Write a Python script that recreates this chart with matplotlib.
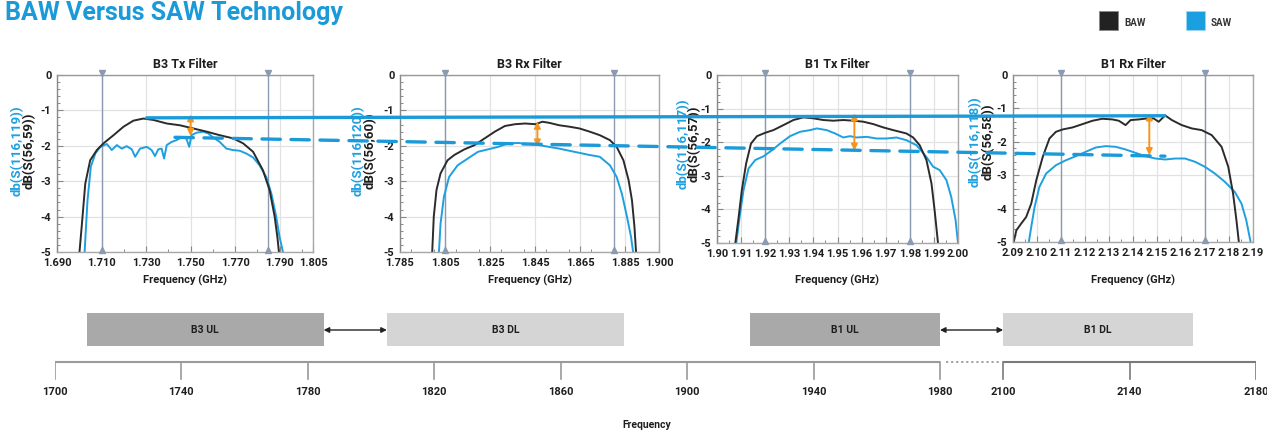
import matplotlib
matplotlib.use("Agg")
import matplotlib.pyplot as plt
from matplotlib.patches import ConnectionPatch, Rectangle
from matplotlib.ticker import FixedLocator, MultipleLocator

plt.rcParams['font.family'] = ['Roboto', 'DejaVu Sans']
plt.rcParams['font.weight'] = 'bold'

# ---------------- data ----------------
b3tx_baw_f = [1.7001, 1.7012, 1.7027, 1.7049, 1.7079, 1.7109, 1.7154, 1.7199, 1.7243, 1.7288, 1.7333,
              1.7393, 1.7452, 1.7512, 1.7572, 1.7631, 1.7691, 1.7736, 1.7781, 1.7825, 1.7855, 1.7878,
              1.7890, 1.7897]
b3tx_baw_db = [-5.00, -4.20, -3.07, -2.41, -2.12, -1.93, -1.70, -1.46, -1.29, -1.23, -1.27,
               -1.37, -1.42, -1.51, -1.60, -1.70, -1.79, -1.93, -2.17, -2.69, -3.25, -4.01,
               -4.58, -5.00]
b3tx_saw_f = [1.7024, 1.7037, 1.7052, 1.7072, 1.7094, 1.7124, 1.7146, 1.7169, 1.7191, 1.7213, 1.7236,
              1.7251, 1.7273, 1.7303, 1.7325, 1.7340, 1.7355, 1.7370, 1.7381, 1.7393, 1.7415, 1.7437,
              1.7460, 1.7479, 1.7494, 1.7504, 1.7527, 1.7557, 1.7579, 1.7601, 1.7631, 1.7661, 1.7691,
              1.7721, 1.7751, 1.7781, 1.7810, 1.7840, 1.7863, 1.7885, 1.7900, 1.7915]
b3tx_saw_db = [-5.00, -3.54, -2.59, -2.22, -2.03, -1.95, -2.12, -1.98, -2.08, -2.01, -2.10,
               -2.31, -2.08, -2.03, -2.12, -2.29, -2.10, -2.08, -2.36, -1.98, -1.89, -1.84,
               -1.76, -1.76, -2.03, -1.70, -1.63, -1.60, -1.65, -1.76, -1.89, -2.08, -2.12,
               -2.14, -2.22, -2.33, -2.55, -2.88, -3.35, -4.01, -4.58, -5.00]

b3rx_baw_f = [1.7993, 1.8000, 1.8012, 1.8030, 1.8061, 1.8091, 1.8136, 1.8181, 1.8226, 1.8271, 1.8316,
              1.8361, 1.8406, 1.8452, 1.8482, 1.8512, 1.8557, 1.8602, 1.8647, 1.8692, 1.8737, 1.8782,
              1.8812, 1.8842, 1.8865, 1.8880, 1.8891, 1.8898]
b3rx_baw_db = [-5.00, -4.00, -3.25, -2.78, -2.41, -2.26, -2.10, -1.98, -1.79, -1.60, -1.44,
               -1.39, -1.37, -1.39, -1.32, -1.35, -1.42, -1.46, -1.51, -1.60, -1.70, -1.84,
               -2.03, -2.41, -2.97, -3.54, -4.29, -5.00]
b3rx_saw_f = [1.8023, 1.8030, 1.8045, 1.8068, 1.8106, 1.8151, 1.8196, 1.8241, 1.8286, 1.8331, 1.8376,
              1.8421, 1.8467, 1.8512, 1.8557, 1.8602, 1.8647, 1.8692, 1.8737, 1.8782, 1.8812, 1.8835,
              1.8858, 1.8876, 1.8885]
b3rx_saw_db = [-5.00, -4.20, -3.44, -2.88, -2.55, -2.36, -2.17, -2.10, -2.03, -1.93, -1.92,
               -1.95, -1.98, -2.03, -2.08, -2.14, -2.20, -2.26, -2.31, -2.55, -2.88, -3.35,
               -4.01, -4.58, -5.00]

b1tx_baw_f = [1.9076, 1.9090, 1.9103, 1.9121, 1.9141, 1.9166, 1.9200, 1.9234, 1.9276, 1.9317, 1.9359,
              1.9400, 1.9441, 1.9483, 1.9524, 1.9566, 1.9607, 1.9648, 1.9690, 1.9731, 1.9786, 1.9814,
              1.9841, 1.9869, 1.9890, 1.9903, 1.9917]
b1tx_baw_db = [-5.00, -4.22, -3.43, -2.63, -2.04, -1.82, -1.72, -1.64, -1.49, -1.34, -1.26,
               -1.29, -1.34, -1.36, -1.34, -1.36, -1.39, -1.46, -1.56, -1.64, -1.74, -1.86,
               -2.09, -2.53, -3.23, -4.03, -5.00]
b1tx_saw_f = [1.9080, 1.9094, 1.9110, 1.9131, 1.9159, 1.9193, 1.9228, 1.9262, 1.9303, 1.9345, 1.9386,
              1.9414, 1.9455, 1.9490, 1.9524, 1.9552, 1.9579, 1.9621, 1.9662, 1.9703, 1.9745, 1.9786,
              1.9828, 1.9869, 1.9897, 1.9924, 1.9952, 1.9972, 1.9990, 2.0000]
b1tx_saw_db = [-5.00, -4.22, -3.43, -2.78, -2.53, -2.42, -2.24, -2.04, -1.82, -1.69, -1.64,
               -1.59, -1.64, -1.74, -1.86, -1.82, -1.86, -1.84, -1.89, -1.89, -1.86, -1.94,
               -2.09, -2.44, -2.73, -2.83, -3.13, -3.63, -4.32, -5.00]

b1rx_baw_f = [2.0903, 2.0914, 2.0934, 2.0955, 2.0976, 2.0997, 2.1024, 2.1052, 2.1079, 2.1107, 2.1148,
              2.1190, 2.1231, 2.1272, 2.1314, 2.1341, 2.1369, 2.1390, 2.1424, 2.1459, 2.1486, 2.1507,
              2.1534, 2.1562, 2.1603, 2.1645, 2.1686, 2.1728, 2.1769, 2.1797, 2.1817, 2.1831, 2.1841]
b1rx_baw_db = [-5.00, -4.65, -4.45, -4.25, -3.85, -3.15, -2.45, -1.90, -1.70, -1.63, -1.57,
               -1.47, -1.37, -1.31, -1.33, -1.37, -1.50, -1.35, -1.33, -1.30, -1.30, -1.40,
               -1.21, -1.35, -1.50, -1.60, -1.65, -1.80, -2.15, -2.75, -3.55, -4.35, -5.00]
b1rx_saw_f = [2.0966, 2.0976, 2.0990, 2.1010, 2.1038, 2.1079, 2.1121, 2.1162, 2.1203, 2.1245, 2.1286,
              2.1328, 2.1369, 2.1410, 2.1452, 2.1493, 2.1534, 2.1576, 2.1617, 2.1659, 2.1700, 2.1741,
              2.1783, 2.1824, 2.1852, 2.1872, 2.1890]
b1rx_saw_db = [-5.00, -4.55, -3.95, -3.35, -2.95, -2.70, -2.55, -2.43, -2.30, -2.17, -2.13,
               -2.15, -2.23, -2.33, -2.43, -2.50, -2.53, -2.50, -2.50, -2.60, -2.75, -2.95,
               -3.20, -3.50, -3.85, -4.35, -5.00]

panel_titles = ["B3 Tx Filter", "B3 Rx Filter", "B1 Tx Filter", "B1 Rx Filter"]
saw_labels = ["db(S(116,119))", "db(S(116,120))", "db(S(116,117))", "db(S(116,118))"]
baw_labels = ["dB(S(56,59))", "dB(S(56,60))", "dB(S(56,57))", "dB(S(56,58))"]
panel_xlims = [(1.690, 1.805), (1.785, 1.900), (1.90, 2.00), (2.09, 2.19)]
b3tx_xticks = [1.690, 1.710, 1.730, 1.750, 1.770, 1.790, 1.805]
b3rx_xticks = [1.785, 1.805, 1.825, 1.845, 1.865, 1.885, 1.900]
b1tx_xticks = [1.90, 1.91, 1.92, 1.93, 1.94, 1.95, 1.96, 1.97, 1.98, 1.99, 2.00]
b1rx_xticks = [2.09, 2.10, 2.11, 2.12, 2.13, 2.14, 2.15, 2.16, 2.17, 2.18, 2.19]
y_ticks = [0, -1, -2, -3, -4, -5]
y_ticklabels = ["0", "-1", "-2", "-3", "-4", "-5"]
band_markers = [(1.710, 1.785), (1.805, 1.880), (1.92, 1.98), (2.11, 2.17)]

# insertion-loss reference lines (start in B3 Tx, end in B1 Rx)
baw_level_f = [1.7303, 2.1533]
baw_level_db = [-1.21, -1.22]
saw_level_f = [1.7430, 2.1533]
saw_level_db = [-1.76, -2.43]
# orange difference arrows per panel
arrow_f = [1.750, 1.846, 1.957, 2.1468]
arrow_top_db = [-1.11, -1.32, -1.14, -1.15]
arrow_bot_db = [-1.72, -2.02, -2.25, -2.40]

# band plan
band_names = ["B3 UL", "B3 DL", "B1 UL", "B1 DL"]
band_start = [1710, 1805, 1920, 2100]
band_end = [1785, 1880, 1980, 2160]
freq_ticks = [1700, 1740, 1780, 1820, 1860, 1900, 1940, 1980, 2100, 2140, 2180]
break_lo, break_hi = 1980, 2100

# ---------------- style ----------------
W, H = 1267, 437
BAW_C = '#2b2b2b'
SAW_C = '#1ea0e0'
LINE_BLUE = '#1a9ad8'
ORANGE = '#f7941d'
MARK_C = '#8a9ab0'
GRID_C = '#e2e2e2'
SPINE_C = '#a8a8a8'
TXT = '#1e1e1e'

fig = plt.figure(figsize=(W / 100, H / 100), dpi=100)


def rect(l, t, r, b):
    return [l / W, 1 - b / H, (r - l) / W, (b - t) / H]


def fxy(x, y):
    return (x / W, 1 - y / H)


panel_rects = [(57, 75, 313, 252), (400, 75, 659, 252), (717, 75, 958, 243), (1013, 75, 1253, 242)]
panel_xticks = [b3tx_xticks, b3rx_xticks, b1tx_xticks, b1rx_xticks]
panel_fmt = ["%.3f", "%.3f", "%.2f", "%.2f"]
panel_minor = [0.01, 0.01, 0.005, 0.005]
panel_data = [(b3tx_baw_f, b3tx_baw_db, b3tx_saw_f, b3tx_saw_db),
              (b3rx_baw_f, b3rx_baw_db, b3rx_saw_f, b3rx_saw_db),
              (b1tx_baw_f, b1tx_baw_db, b1tx_saw_f, b1tx_saw_db),
              (b1rx_baw_f, b1rx_baw_db, b1rx_saw_f, b1rx_saw_db)]
label_px = [(17, 29, 151), (358, 370, 151), (683, 694, 144), (975, 988, 142)]

axes = []
for i in range(4):
    l, t, r, b = panel_rects[i]
    ax = fig.add_axes(rect(l, t, r, b))
    axes.append(ax)
    bf, bd, sf, sd = panel_data[i]
    ax.set_xlim(*panel_xlims[i])
    ax.set_ylim(-5, 0)
    ax.xaxis.set_major_locator(FixedLocator(panel_xticks[i]))
    ax.set_xticklabels([panel_fmt[i] % v for v in panel_xticks[i]], fontweight='bold')
    ax.xaxis.set_minor_locator(MultipleLocator(panel_minor[i]))
    ax.set_yticks(y_ticks)
    ax.set_yticklabels(y_ticklabels, fontweight='bold')
    ax.yaxis.set_minor_locator(MultipleLocator(0.2))
    ax.grid(True, which='major', color=GRID_C, lw=0.9, zorder=0)
    ax.set_axisbelow(True)
    ax.tick_params(which='major', direction='in', length=4, width=0.8, color='#888888',
                   labelsize=8, labelcolor=TXT, pad=4)
    ax.tick_params(which='minor', direction='in', length=2.5, width=0.7, color='#888888')
    for s in ax.spines.values():
        s.set_color(SPINE_C)
        s.set_linewidth(1.0)
    ax.spines['left'].set_color('#888888')
    ax.spines['top'].set_color('#999999')
    for m in band_markers[i]:
        ax.axvline(m, color=MARK_C, lw=1.0, zorder=1)
        ax.plot([m], [0.06], marker='v', ms=4, color=MARK_C, clip_on=False, zorder=3)
        ax.plot([m], [-4.94], marker='^', ms=4, color=MARK_C, clip_on=False, zorder=3)
    ax.plot(sf, sd, color=SAW_C, lw=1.4, zorder=2)
    ax.plot(bf, bd, color=BAW_C, lw=1.4, zorder=2)
    ax.annotate('', xy=(arrow_f[i], arrow_bot_db[i]), xytext=(arrow_f[i], arrow_top_db[i]),
                arrowprops=dict(arrowstyle='<|-|>', color=ORANGE, lw=1.4, mutation_scale=9,
                                shrinkA=0, shrinkB=0), zorder=6)
    cx = (l + r) / 2
    fig.text(*fxy(cx, 64), panel_titles[i], ha='center', va='center', fontsize=9,
             color=TXT, fontweight='bold')
    fig.text(*fxy(cx, 280), "Frequency (GHz)", ha='center', va='center', fontsize=8,
             color=TXT, fontweight='bold')
    xb, xk, yc = label_px[i]
    fig.text(*fxy(xb, yc), saw_labels[i], rotation=90, ha='center', va='center',
             fontsize=9.5, color=SAW_C, fontweight='bold')
    fig.text(*fxy(xk, yc), baw_labels[i], rotation=90, ha='center', va='center',
             fontsize=9.5, color=TXT, fontweight='bold')

# insertion loss level lines spanning the panels
con1 = ConnectionPatch(xyA=(baw_level_f[0], baw_level_db[0]), coordsA=axes[0].transData,
                       xyB=(baw_level_f[1], baw_level_db[1]), coordsB=axes[3].transData,
                       color=LINE_BLUE, lw=2.4, zorder=5)
fig.add_artist(con1)
con2 = ConnectionPatch(xyA=(saw_level_f[0], saw_level_db[0]), coordsA=axes[0].transData,
                       xyB=(saw_level_f[1], saw_level_db[1]), coordsB=axes[3].transData,
                       color=LINE_BLUE, lw=2.4, linestyle=(0, (5.5, 3.2)), zorder=5)
fig.add_artist(con2)

# title and legend
fig.text(*fxy(5, 13), "BAW Versus SAW Technology", ha='left', va='center',
         fontsize=18, color=LINE_BLUE, fontweight='bold')
fig.add_artist(Rectangle(fxy(1099, 30), 19 / W, 19 / H, transform=fig.transFigure,
                         facecolor='#222222', edgecolor='#888888', lw=0.6))
fig.text(*fxy(1124, 23), "BAW", ha='left', va='center', fontsize=7, color='#333333',
         fontweight='bold')
fig.add_artist(Rectangle(fxy(1186, 30), 19 / W, 19 / H, transform=fig.transFigure,
                         facecolor='#1aa0e0', edgecolor='#9fd3ef', lw=0.6))
fig.text(*fxy(1211, 23), "SAW", ha='left', va='center', fontsize=7, color='#333333',
         fontweight='bold')


# ---------------- band plan timeline ----------------
def disp(f):
    return f if f <= break_lo else f - (break_hi - break_lo) + 20


tl = fig.add_axes(rect(55, 300, 1256, 437))
tl.set_xlim(disp(1700), disp(2180))
tl.set_ylim(437, 300)
tl.axis('off')

band_colors = ['#a9a9a9', '#d5d5d5', '#a9a9a9', '#d5d5d5']
for name, s, e, c in zip(band_names, band_start, band_end, band_colors):
    tl.bar(disp(s), 33, width=disp(e) - disp(s), bottom=313, align='edge', color=c,
           edgecolor='none', zorder=1)
    tl.text((disp(s) + disp(e)) / 2, 330, name, ha='center', va='center', fontsize=7.5,
            color=TXT, fontweight='bold')

for a, b in [(0, 1), (2, 3)]:
    tl.annotate('', xy=(disp(band_start[b]), 330), xytext=(disp(band_end[a]), 330),
                arrowprops=dict(arrowstyle='<|-|>', color='#222222', lw=1.0, mutation_scale=8,
                                shrinkA=0, shrinkB=0))

tl.plot([disp(freq_ticks[0]), disp(break_lo)], [362, 362], color='#9a9a9a', lw=1.5,
        solid_capstyle='butt')
tl.plot([disp(break_lo) + 2, disp(break_hi) - 1], [362, 362], color='#9a9a9a', lw=1.3,
        linestyle=(0, (1.2, 1.6)))
tl.plot([disp(break_hi), disp(freq_ticks[-1])], [362, 362], color='#7a7a7a', lw=1.5,
        solid_capstyle='butt')
for f in freq_ticks:
    col = '#7a7a7a' if f >= break_hi else '#9a9a9a'
    tl.plot([disp(f), disp(f)], [362, 379], color=col, lw=1.2)
    tl.text(disp(f), 392, str(f), ha='center', va='center', fontsize=8, color=TXT,
            fontweight='bold')

fig.text(*fxy(647, 425), "Frequency", ha='center', va='center', fontsize=7.5, color=TXT,
         fontweight='bold')

fig.savefig("out.png", dpi=100)
